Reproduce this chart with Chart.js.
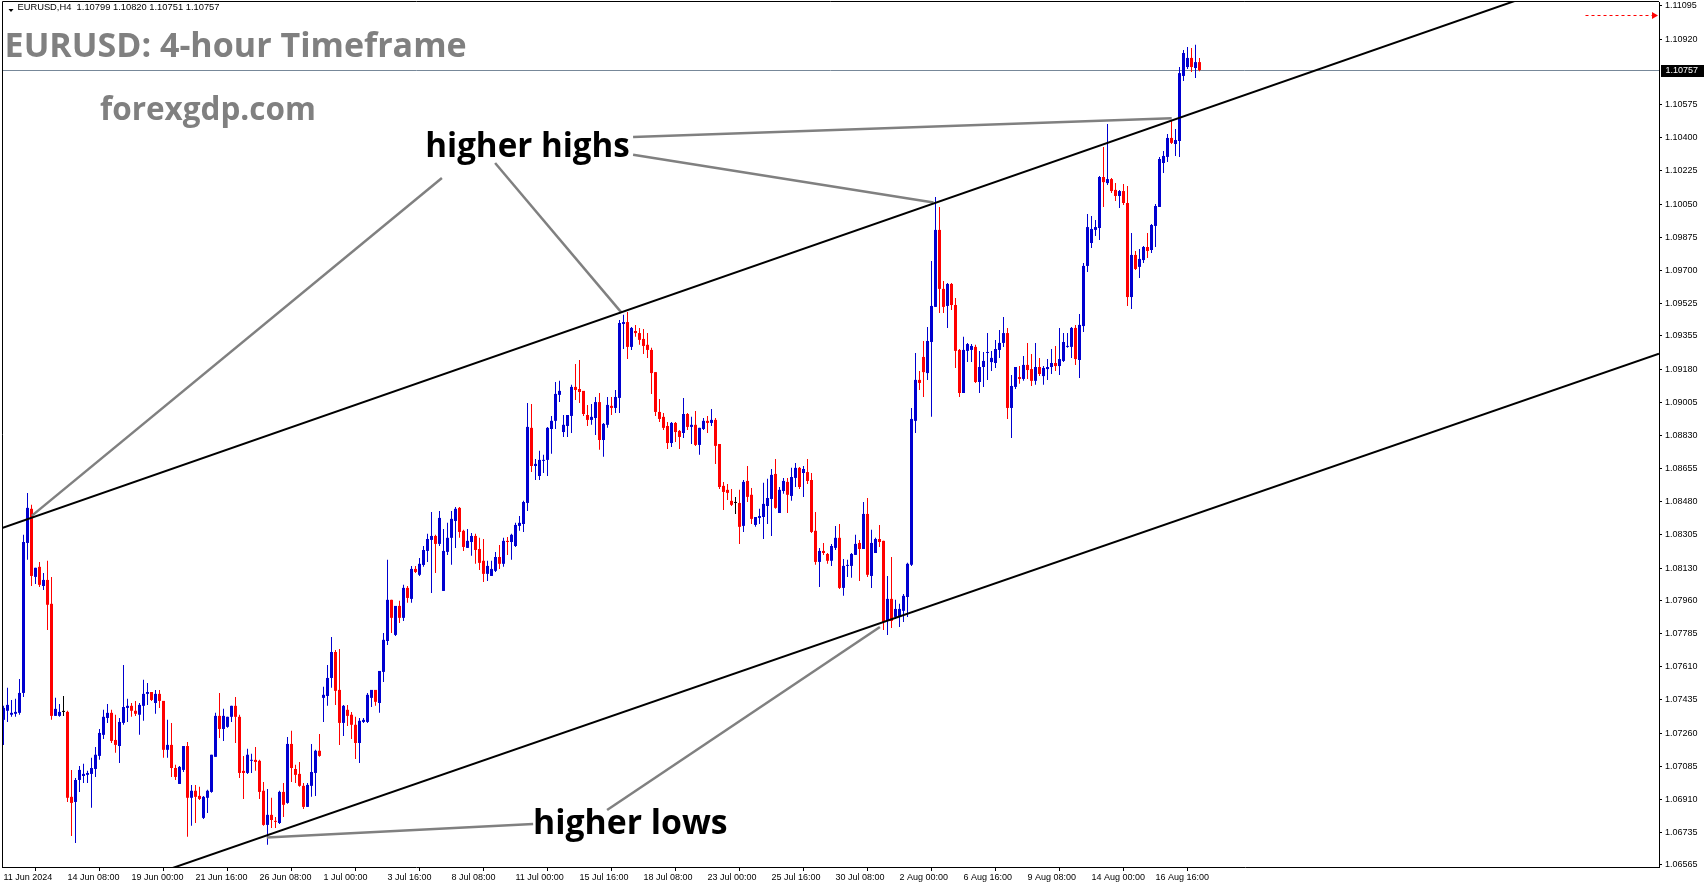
<!DOCTYPE html>
<html>
<head>
<meta charset="utf-8">
<title>EURUSD H4</title>
<script src="https://cdn.jsdelivr.net/npm/chart.js@4.4.1/dist/chart.umd.min.js"></script>
<style>
  html, body { margin: 0; padding: 0; background: #fff; }
  #wrap { width: 1705px; height: 888px; }
</style>
</head>
<body>
<div id="wrap"><canvas id="chart" width="1705" height="888"></canvas></div>
<script>
// EURUSD H4, one entry per 4-hour bar, first bar 11 Jun 2024 16:00
const opens = [
  1.07330,1.07378,1.07357,1.07362,1.07367,1.07472,1.08263,1.08443,1.08084,1.08137,
  1.08036,1.08068,1.07942,1.07351,1.07351,1.07372,1.07372,1.06924,1.06897,1.07013,
  1.07034,1.07040,1.07045,1.07071,1.07140,1.07251,1.07340,1.07367,1.07224,1.07192,
  1.07314,1.07393,1.07404,1.07378,1.07357,1.07404,1.07467,1.07477,1.07419,1.07467,
  1.07430,1.07172,1.07198,1.07076,1.06992,1.07066,1.07192,1.06919,1.06956,1.06929,
  1.06813,1.06919,1.06950,1.07135,1.07351,1.07282,1.07293,1.07346,1.07404,1.07346,
  1.07061,1.07050,1.07114,1.07119,1.07114,1.06956,1.06776,1.06829,1.06797,1.06786,
  1.06950,1.06892,1.07203,1.07071,1.07045,1.06982,1.06871,1.06982,1.07050,1.07167,
  1.07446,1.07456,1.07551,1.07688,1.07488,1.07314,1.07383,1.07357,1.07304,1.07208,
  1.07319,1.07319,1.07446,1.07488,1.07419,1.07583,1.07746,1.07963,1.07778,1.07931,
  1.07868,1.08026,1.07968,1.08126,1.08095,1.08147,1.08221,1.08279,1.08300,1.08258,
  1.08010,1.08216,1.08290,1.08379,1.08448,1.08327,1.08237,1.08268,1.08300,1.08231,
  1.08169,1.08100,1.08089,1.08116,1.08189,1.08153,1.08274,1.08268,1.08247,1.08353,
  1.08363,1.08474,1.08870,1.08669,1.08616,1.08696,1.08701,1.08864,1.08907,1.09044,
  1.08848,1.08880,1.08933,1.09086,1.09075,1.09065,1.08938,1.08912,1.08922,1.09006,
  1.08806,1.08886,1.08986,1.08975,1.09028,1.09418,1.09428,1.09297,1.09381,1.09370,
  1.09339,1.09308,1.09281,1.09164,1.08954,1.08928,1.08880,1.08790,1.08896,1.08854,
  1.08843,1.08943,1.08875,1.08886,1.08780,1.08864,1.08907,1.08896,1.08912,1.08785,
  1.08564,1.08543,1.08485,1.08474,1.08474,1.08353,1.08590,1.08517,1.08358,1.08395,
  1.08400,1.08458,1.08495,1.08627,1.08421,1.08537,1.08585,1.08511,1.08606,1.08659,
  1.08632,1.08637,1.08595,1.08327,1.08163,1.08221,1.08205,1.08169,1.08237,1.08290,
  1.08026,1.08142,1.08142,1.08200,1.08263,1.08231,1.08416,1.08089,1.08210,1.08284,
  1.08274,1.07852,1.07968,1.07873,1.07873,1.07905,1.07978,1.08148,1.08907,1.09123,
  1.09244,1.09159,1.09323,1.09508,1.09914,1.09603,1.09513,1.09629,1.09518,1.09281,
  1.09054,1.09276,1.09281,1.09297,1.09112,1.09191,1.09265,1.09217,1.09212,1.09281,
  1.09318,1.09370,1.08975,1.09086,1.09138,1.09128,1.09202,1.09180,1.09118,1.09191,
  1.09143,1.09180,1.09191,1.09212,1.09196,1.09223,1.09297,1.09297,1.09397,1.09228,
  1.09407,1.09724,1.09845,1.09914,1.09924,1.10193,1.10161,1.10182,1.10125,1.10093,
  1.10119,1.10056,1.09560,1.09782,1.09719,1.09755,1.09824,1.09808,1.09935,1.10035,
  1.10267,1.10299,1.10399,1.10367,1.10383,1.10726,1.10773,1.10821,1.10768,1.10799
];
const highs = [
  1.07404,1.07499,1.07435,1.07441,1.07546,1.08306,1.08527,1.08464,1.08132,1.08163,
  1.08105,1.08169,1.08084,1.07446,1.07414,1.07456,1.07378,1.07066,1.07024,1.07087,
  1.07098,1.07061,1.07130,1.07187,1.07282,1.07383,1.07414,1.07383,1.07357,1.07340,
  1.07620,1.07441,1.07419,1.07430,1.07419,1.07541,1.07525,1.07477,1.07488,1.07488,
  1.07430,1.07330,1.07314,1.07093,1.07087,1.07192,1.07213,1.06987,1.06987,1.06977,
  1.06929,1.06961,1.07146,1.07367,1.07472,1.07388,1.07346,1.07404,1.07451,1.07357,
  1.07140,1.07177,1.07151,1.07187,1.07119,1.07002,1.06966,1.06919,1.06818,1.06956,
  1.06997,1.07240,1.07272,1.07093,1.07108,1.06997,1.06997,1.07203,1.07172,1.07256,
  1.07504,1.07620,1.07767,1.07699,1.07704,1.07409,1.07409,1.07372,1.07346,1.07340,
  1.07340,1.07472,1.07488,1.07488,1.07588,1.07788,1.08174,1.07963,1.07931,1.07958,
  1.08042,1.08036,1.08142,1.08142,1.08184,1.08247,1.08311,1.08426,1.08306,1.08432,
  1.08337,1.08369,1.08432,1.08453,1.08453,1.08332,1.08337,1.08316,1.08311,1.08290,
  1.08284,1.08169,1.08169,1.08215,1.08252,1.08290,1.08295,1.08311,1.08369,1.08405,
  1.08485,1.09001,1.08996,1.08706,1.08749,1.08728,1.08875,1.08933,1.09112,1.09118,
  1.08938,1.08938,1.09097,1.09207,1.09228,1.09065,1.08991,1.08996,1.09033,1.09054,
  1.08896,1.09033,1.09033,1.09070,1.09439,1.09466,1.09481,1.09402,1.09413,1.09397,
  1.09391,1.09370,1.09292,1.09164,1.09022,1.08949,1.08901,1.08901,1.08901,1.08859,
  1.09028,1.08949,1.08928,1.08959,1.08870,1.08922,1.08933,1.08970,1.08922,1.08785,
  1.08585,1.08574,1.08548,1.08506,1.08543,1.08595,1.08669,1.08553,1.08400,1.08443,
  1.08580,1.08601,1.08653,1.08706,1.08558,1.08606,1.08606,1.08659,1.08685,1.08664,
  1.08669,1.08706,1.08632,1.08426,1.08237,1.08263,1.08210,1.08258,1.08353,1.08363,
  1.08179,1.08174,1.08210,1.08306,1.08279,1.08479,1.08500,1.08332,1.08290,1.08358,
  1.08274,1.08089,1.08189,1.07963,1.07942,1.07994,1.08158,1.08975,1.09265,1.09170,
  1.09328,1.09402,1.09750,1.10088,1.10035,1.09645,1.09634,1.09634,1.09555,1.09286,
  1.09350,1.09318,1.09312,1.09308,1.09276,1.09270,1.09370,1.09276,1.09334,1.09386,
  1.09455,1.09397,1.09149,1.09191,1.09196,1.09249,1.09318,1.09260,1.09318,1.09239,
  1.09196,1.09233,1.09286,1.09302,1.09397,1.09370,1.09370,1.09402,1.09413,1.09471,
  1.09740,1.09998,1.09987,1.09966,1.10198,1.10351,1.10473,1.10188,1.10161,1.10125,
  1.10156,1.10146,1.09898,1.09803,1.09813,1.09829,1.09898,1.09945,1.10051,1.10299,
  1.10330,1.10420,1.10494,1.10446,1.10773,1.10863,1.10879,1.10873,1.10890,1.10820
];
const lows = [
  1.07198,1.07319,1.07346,1.07346,1.07357,1.07451,1.08174,1.08036,1.08047,1.08031,
  1.08015,1.07804,1.07330,1.07351,1.07346,1.07351,1.06897,1.06718,1.06681,1.06950,
  1.06997,1.06997,1.06866,1.07029,1.07119,1.07229,1.07314,1.07208,1.07156,1.07103,
  1.07304,1.07319,1.07346,1.07351,1.07251,1.07325,1.07409,1.07430,1.07362,1.07393,
  1.07130,1.07130,1.07029,1.07013,1.06992,1.07055,1.06713,1.06771,1.06786,1.06908,
  1.06807,1.06839,1.06945,1.07135,1.07235,1.07219,1.07288,1.07319,1.07208,1.07024,
  1.06913,1.07045,1.07050,1.07061,1.06913,1.06771,1.06671,1.06760,1.06760,1.06781,
  1.06818,1.06887,1.07002,1.06997,1.06977,1.06860,1.06871,1.06924,1.06929,1.07135,
  1.07319,1.07404,1.07499,1.07409,1.07198,1.07245,1.07298,1.07229,1.07124,1.07103,
  1.07314,1.07314,1.07398,1.07404,1.07367,1.07530,1.07725,1.07788,1.07772,1.07841,
  1.07852,1.07947,1.07947,1.08105,1.08089,1.08137,1.08163,1.07999,1.08105,1.08247,
  1.08010,1.08200,1.08148,1.08237,1.08290,1.08221,1.08237,1.08195,1.08153,1.08121,
  1.08057,1.08063,1.08089,1.08110,1.08126,1.08137,1.08200,1.08174,1.08242,1.08327,
  1.08321,1.08432,1.08637,1.08595,1.08595,1.08632,1.08616,1.08733,1.08864,1.09006,
  1.08822,1.08822,1.08843,1.09017,1.09001,1.08933,1.08880,1.08886,1.08833,1.08754,
  1.08717,1.08870,1.08938,1.08949,1.08949,1.09286,1.09233,1.09281,1.09350,1.09308,
  1.09260,1.09239,1.09049,1.08933,1.08901,1.08859,1.08759,1.08769,1.08795,1.08759,
  1.08817,1.08859,1.08785,1.08775,1.08728,1.08859,1.08843,1.08880,1.08680,1.08548,
  1.08437,1.08490,1.08458,1.08416,1.08258,1.08321,1.08479,1.08363,1.08348,1.08363,
  1.08284,1.08363,1.08300,1.08443,1.08421,1.08522,1.08421,1.08485,1.08558,1.08548,
  1.08506,1.08574,1.08316,1.08148,1.08031,1.08200,1.08153,1.08142,1.08226,1.08020,
  1.07984,1.08084,1.08079,1.08200,1.08063,1.08231,1.08084,1.08026,1.08210,1.08242,
  1.07804,1.07778,1.07815,1.07862,1.07820,1.07846,1.07873,1.08142,1.08843,1.09070,
  1.09033,1.09123,1.08928,1.09508,1.09476,1.09476,1.09397,1.09492,1.09186,1.09033,
  1.09054,1.09217,1.09217,1.09107,1.09054,1.09086,1.09123,1.09170,1.09186,1.09239,
  1.09297,1.08917,1.08817,1.09075,1.09102,1.09118,1.09128,1.09091,1.09097,1.09143,
  1.09097,1.09123,1.09154,1.09170,1.09149,1.09217,1.09292,1.09239,1.09202,1.09133,
  1.09376,1.09692,1.09819,1.09882,1.09861,1.10035,1.10151,1.10109,1.10067,1.10030,
  1.10046,1.09513,1.09497,1.09703,1.09661,1.09740,1.09766,1.09792,1.09824,1.10035,
  1.10214,1.10272,1.10367,1.10304,1.10299,1.10700,1.10763,1.10747,1.10715,1.10751
];
const closes = [
  1.07393,1.07409,1.07367,1.07372,1.07472,1.08268,1.08448,1.08089,1.08132,1.08042,
  1.08068,1.07937,1.07351,1.07388,1.07372,1.07372,1.06919,1.06892,1.07013,1.07066,
  1.07045,1.07050,1.07076,1.07146,1.07261,1.07346,1.07367,1.07219,1.07198,1.07319,
  1.07398,1.07404,1.07378,1.07362,1.07409,1.07467,1.07477,1.07435,1.07467,1.07430,
  1.07172,1.07198,1.07076,1.07029,1.07082,1.07192,1.06919,1.06956,1.06924,1.06913,
  1.06924,1.06956,1.07146,1.07351,1.07282,1.07351,1.07346,1.07404,1.07346,1.07050,
  1.07050,1.07146,1.07119,1.07108,1.06950,1.06776,1.06829,1.06802,1.06792,1.06950,
  1.06882,1.07203,1.07076,1.07040,1.06982,1.06871,1.06987,1.07055,1.07167,1.07140,
  1.07462,1.07551,1.07688,1.07483,1.07314,1.07404,1.07351,1.07304,1.07208,1.07325,
  1.07330,1.07462,1.07488,1.07425,1.07588,1.07752,1.07963,1.07868,1.07931,1.07868,
  1.08026,1.07973,1.08126,1.08110,1.08153,1.08226,1.08284,1.08300,1.08258,1.08395,
  1.08221,1.08290,1.08390,1.08443,1.08321,1.08242,1.08274,1.08300,1.08226,1.08158,
  1.08100,1.08142,1.08126,1.08189,1.08153,1.08274,1.08268,1.08306,1.08358,1.08369,
  1.08479,1.08875,1.08669,1.08680,1.08701,1.08701,1.08870,1.08907,1.09049,1.09065,
  1.08886,1.08938,1.09086,1.09070,1.09059,1.08943,1.08912,1.08928,1.09006,1.08806,
  1.08891,1.08991,1.08975,1.09033,1.09423,1.09428,1.09297,1.09397,1.09370,1.09334,
  1.09302,1.09281,1.09159,1.08954,1.08917,1.08870,1.08790,1.08896,1.08848,1.08822,
  1.08943,1.08875,1.08886,1.08780,1.08870,1.08907,1.08896,1.08912,1.08775,1.08558,
  1.08532,1.08527,1.08464,1.08474,1.08348,1.08585,1.08506,1.08390,1.08400,1.08405,
  1.08469,1.08500,1.08622,1.08448,1.08543,1.08590,1.08517,1.08611,1.08659,1.08558,
  1.08653,1.08590,1.08321,1.08163,1.08221,1.08210,1.08169,1.08247,1.08290,1.08026,
  1.08142,1.08147,1.08205,1.08258,1.08231,1.08416,1.08095,1.08263,1.08284,1.08268,
  1.07846,1.07968,1.07852,1.07915,1.07915,1.07984,1.08153,1.08917,1.09123,1.09107,
  1.09164,1.09328,1.09513,1.09914,1.09603,1.09508,1.09629,1.09518,1.09276,1.09054,
  1.09281,1.09312,1.09302,1.09112,1.09191,1.09223,1.09270,1.09239,1.09286,1.09318,
  1.09370,1.08975,1.09091,1.09191,1.09128,1.09202,1.09175,1.09118,1.09191,1.09154,
  1.09186,1.09191,1.09212,1.09196,1.09233,1.09323,1.09302,1.09397,1.09233,1.09413,
  1.09724,1.09929,1.09919,1.09929,1.10193,1.10166,1.10182,1.10119,1.10093,1.10119,
  1.10056,1.09560,1.09782,1.09708,1.09761,1.09824,1.09803,1.09940,1.10040,1.10288,
  1.10304,1.10399,1.10373,1.10388,1.10741,1.10847,1.10821,1.10773,1.10799,1.10757
];

// time axis: bar index of each label
const tickIndex = [0, 16, 32, 48, 64, 80, 96, 112, 128, 144, 160, 176, 192, 208, 224, 240, 256, 272, 288];
const tickLabels = ['11 Jun 2024', '14 Jun 08:00', '19 Jun 00:00', '21 Jun 16:00', '26 Jun 08:00',
  '1 Jul 00:00', '3 Jul 16:00', '8 Jul 08:00', '11 Jul 00:00', '15 Jul 16:00', '18 Jul 08:00',
  '23 Jul 00:00', '25 Jul 16:00', '30 Jul 08:00', '2 Aug 00:00', '6 Aug 16:00', '9 Aug 08:00',
  '14 Aug 00:00', '16 Aug 16:00'];
const priceTicks = [1.06565, 1.06735, 1.06910, 1.07085, 1.07260, 1.07435, 1.07610, 1.07785,
  1.07960, 1.08130, 1.08305, 1.08480, 1.08655, 1.08830, 1.09005, 1.09180, 1.09355, 1.09525,
  1.09700, 1.09875, 1.10050, 1.10225, 1.10400, 1.10575, 1.10920, 1.11095];

const lastPrice = 1.10757;
const alertPrice = 1.11048;
const alertFromBar = 395.5;

// channel lines: two [bar, price] anchors each
const upperChannel = [[0, 1.08344], [299, 1.10542]];
const lowerChannel = [[56, 1.06649], [250, 1.08065]];

// pointer lines from the labels to the swings
const highPointers = [
  [[109.6, 1.10188], [7.05, 1.08406]],
  [[122.9, 1.10267], [154.5, 1.09478]],
  [[157.4, 1.10310], [232.5, 1.10058]],
  [[157.4, 1.10404], [292.05, 1.10503]]
];
const lowPointers = [
  [[132.4, 1.06781], [65.8, 1.06709]],
  [[150.9, 1.06855], [219.1, 1.07820]]
];
const notes = [
  { text: 'higher highs', at: [131.06, 1.10346] },
  { text: 'higher lows', at: [156.75, 1.06775] }
];

const xMin = -0.375, xMax = 413.875;
const bullColor = '#0000d0', bearColor = '#ff0000', flatColor = '#000000';
const candleColors = opens.map((o, i) => closes[i] > o ? bullColor : (closes[i] < o ? bearColor : flatColor));

function extendLine(line) {
  const [[x1, y1], [x2, y2]] = line;
  const k = (y2 - y1) / (x2 - x1);
  return [{ x: xMin, y: y1 + k * (xMin - x1) }, { x: xMax, y: y1 + k * (xMax - x1) }];
}

function pointerSet(line) {
  return {
    type: 'line',
    data: line.map(p => ({ x: p[0], y: p[1] })),
    borderColor: '#808080',
    borderWidth: 2.5,
    pointRadius: 0,
    tension: 0,
    clip: 0,
    order: 0
  };
}

function channelSet(line) {
  return {
    type: 'line',
    data: extendLine(line),
    borderColor: '#000000',
    borderWidth: 2,
    pointRadius: 0,
    tension: 0,
    clip: 0,
    order: 0
  };
}

// draw text so that its ink box starts at left and is centred on midY, fitted to width
function fitText(ctx, text, weight, family, left, width, midY, color) {
  ctx.font = weight + ' 100px "' + family + '"';
  let m = ctx.measureText(text);
  const size = 100 * width / (m.actualBoundingBoxLeft + m.actualBoundingBoxRight);
  ctx.font = weight + ' ' + size.toFixed(2) + 'px "' + family + '"';
  m = ctx.measureText(text);
  ctx.fillStyle = color;
  ctx.textBaseline = 'alphabetic';
  ctx.textAlign = 'left';
  const base = midY + (m.actualBoundingBoxAscent - m.actualBoundingBoxDescent) / 2;
  ctx.fillText(text, left + m.actualBoundingBoxLeft, base);
}

const overlay = {
  id: 'overlay',
  beforeDatasetsDraw(chart) {
    const { ctx, chartArea: a, scales: { y } } = chart;
    const py = Math.round(y.getPixelForValue(lastPrice)) + 0.5;
    ctx.save();
    ctx.strokeStyle = '#778899';
    ctx.lineWidth = 1;
    ctx.beginPath();
    ctx.moveTo(a.left, py);
    ctx.lineTo(a.right, py);
    ctx.stroke();
    ctx.restore();
  },
  afterDraw(chart) {
    const { ctx, chartArea: a, scales: { x, y } } = chart;
    ctx.save();

    // frame
    ctx.strokeStyle = '#000';
    ctx.lineWidth = 1;
    ctx.beginPath();
    ctx.moveTo(a.left + 0.5, a.bottom);
    ctx.lineTo(a.left + 0.5, a.top - 0.5);
    ctx.lineTo(a.right, a.top - 0.5);
    ctx.stroke();

    // alert level, dashed red with arrow
    const ay = Math.round(y.getPixelForValue(alertPrice)) + 0.5;
    const ax = x.getPixelForValue(alertFromBar);
    ctx.strokeStyle = '#ff0000';
    ctx.setLineDash([3, 3]);
    ctx.beginPath();
    ctx.moveTo(ax, ay);
    ctx.lineTo(a.right - 6, ay);
    ctx.stroke();
    ctx.setLineDash([]);
    ctx.fillStyle = '#ff0000';
    ctx.beginPath();
    ctx.moveTo(a.right - 7, ay - 3.5);
    ctx.lineTo(a.right - 1, ay);
    ctx.lineTo(a.right - 7, ay + 3.5);
    ctx.closePath();
    ctx.fill();

    // last price box
    const py = Math.round(y.getPixelForValue(lastPrice));
    ctx.fillStyle = '#000';
    ctx.fillRect(a.right + 2, py - 5, 43, 12);
    ctx.fillStyle = '#fff';
    ctx.font = '9px "Liberation Sans"';
    ctx.textBaseline = 'middle';
    ctx.textAlign = 'left';
    ctx.fillText(lastPrice.toFixed(5), a.right + 6.5, py + 1);

    // header line
    ctx.fillStyle = '#000';
    ctx.beginPath();
    ctx.moveTo(8.5, 9);
    ctx.lineTo(13.5, 9);
    ctx.lineTo(11, 12);
    ctx.closePath();
    ctx.fill();
    const n = opens.length - 1;
    const header = 'EURUSD,H4  ' + [opens[n], highs[n], lows[n], closes[n]].map(v => v.toFixed(5)).join(' ');
    fitText(ctx, header, 'normal', 'Liberation Sans', 17.4, 201, 10.8, '#000');

    fitText(ctx, 'EURUSD: 4-hour Timeframe', 'bold', 'Open Sans', 7.6, 458, 43.5, '#808080');
    fitText(ctx, 'forexgdp.com', 'bold', 'Open Sans', 100, 213, 111.5, '#808080');

    const noteWidths = [201, 191];
    notes.forEach((note, i) => {
      const cx = x.getPixelForValue(note.at[0]);
      const cy = y.getPixelForValue(note.at[1]);
      fitText(ctx, note.text, 'bold', 'Open Sans', cx - noteWidths[i] / 2, noteWidths[i], cy, '#000');
    });
    ctx.restore();
  }
};

const axisFont = { family: 'Liberation Sans', size: 9 };

new Chart(document.getElementById('chart'), {
  type: 'bar',
  data: {
    datasets: [
      ...[upperChannel, lowerChannel].map(channelSet),
      ...highPointers.map(pointerSet),
      ...lowPointers.map(pointerSet),
      {
        type: 'bar',
        label: 'body',
        data: opens.map((o, i) => ({ x: i, y: [o, closes[i]] })),
        backgroundColor: candleColors,
        grouped: false,
        barPercentage: 1,
        categoryPercentage: 1,
        maxBarThickness: 3,
        minBarLength: 1,
        inflateAmount: 0,
        borderWidth: 0,
        order: 1
      },
      {
        type: 'bar',
        label: 'wick',
        data: lows.map((l, i) => ({ x: i, y: [l, highs[i]] })),
        backgroundColor: candleColors,
        grouped: false,
        barPercentage: 1,
        categoryPercentage: 1,
        maxBarThickness: 1,
        minBarLength: 1,
        inflateAmount: 0,
        borderWidth: 0,
        order: 2
      }
    ]
  },
  options: {
    responsive: false,
    animation: false,
    devicePixelRatio: 1,
    events: [],
    layout: { padding: { top: 2, left: 2, right: 0, bottom: 0 } },
    plugins: { legend: { display: false }, tooltip: { enabled: false } },
    scales: {
      x: {
        type: 'linear',
        min: xMin,
        max: xMax,
        offset: false,
        grid: { drawOnChartArea: false, drawTicks: true, tickLength: 4, color: '#000' },
        border: { display: true, color: '#000', width: 1 },
        ticks: {
          autoSkip: false, maxRotation: 0, minRotation: 0, align: 'start', padding: 1,
          color: '#000', font: axisFont,
          callback: (v, i) => tickLabels[i]
        },
        afterBuildTicks: s => { s.ticks = tickIndex.map(v => ({ value: v })); },
        afterFit: s => { s.height = 21; s.paddingLeft = 0; s.paddingRight = 0; }
      },
      y: {
        type: 'linear',
        position: 'right',
        min: 1.06554,
        max: 1.11116,
        grid: { drawOnChartArea: false, drawTicks: true, tickLength: 3, color: '#000' },
        border: { display: true, color: '#000', width: 1 },
        ticks: { padding: 3, color: '#000', font: axisFont, callback: v => v.toFixed(5) },
        afterBuildTicks: s => { s.ticks = priceTicks.map(v => ({ value: v })); },
        afterFit: s => { s.width = 46; s.paddingTop = 0; s.paddingBottom = 0; }
      }
    }
  },
  plugins: [overlay]
});
</script>
</body>
</html>
